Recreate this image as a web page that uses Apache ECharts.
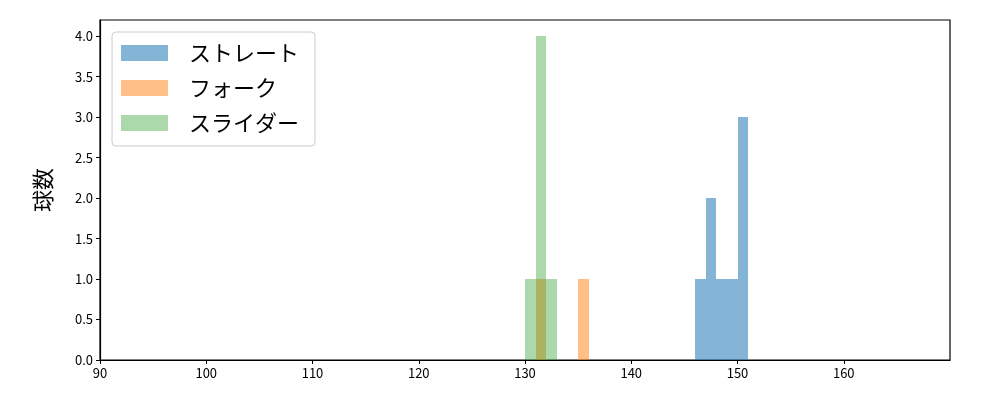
<!DOCTYPE html>
<html>
<head>
<meta charset="utf-8">
<script src="https://cdn.jsdelivr.net/npm/echarts@6/dist/echarts.min.js"></script>
<style>html,body{margin:0;padding:0;background:#fff}#c{width:1000px;height:400px}</style>
</head>
<body>
<div id="c"></div>
<script>
const seriesNames = ['ストレート', 'フォーク', 'スライダー'];
const binWidth = 1;
const straightBins = [146, 147, 148, 149, 150];
const straightCounts = [1, 2, 1, 1, 3];
const forkBins = [131, 135];
const forkCounts = [1, 1];
const sliderBins = [130, 131, 132];
const sliderCounts = [1, 4, 1];
const xTicks = [90, 100, 110, 120, 130, 140, 150, 160];
const yTicks = [0, 0.5, 1.0, 1.5, 2.0, 2.5, 3.0, 3.5, 4.0];

const colors = ['rgba(31,119,180,0.55)', 'rgba(255,127,14,0.5)', 'rgba(44,160,44,0.4)'];
const FONT = '"Noto Sans CJK JP", "DejaVu Sans", sans-serif';

function toData(bins, counts) {
  return bins.map((b, i) => [b, b + binWidth, counts[i]]);
}
function makeSeries(name, data, color) {
  return {
    type: 'custom',
    name: name,
    itemStyle: { color: color },
    encode: { x: [0, 1], y: 2 },
    data: data,
    renderItem: function (params, api) {
      const p0 = api.coord([api.value(0), 0]);
      const p1 = api.coord([api.value(1), api.value(2)]);
      const x0 = Math.round(p0[0]), x1 = Math.round(p1[0]);
      const yb = Math.round(p0[1]), yt = Math.round(p1[1]);
      return {
        type: 'rect',
        shape: { x: x0, y: yt, width: x1 - x0, height: yb - yt },
        style: { fill: color }
      };
    }
  };
}

const chart = echarts.init(document.getElementById('c'), null, { renderer: 'canvas' });
chart.setOption({
  animation: false,
  backgroundColor: '#fff',
  grid: { left: 100, right: 50, top: 20, bottom: 40, show: true, borderColor: '#000', borderWidth: 1.2, backgroundColor: 'transparent' },
  legend: {
    left: 112, top: 32, orient: 'vertical',
    data: seriesNames,
    icon: 'rect', itemWidth: 47, itemHeight: 16, itemGap: 13,
    padding: [10, 16, 12, 9],
    borderColor: '#cccccc', borderWidth: 1, borderRadius: 4,
    backgroundColor: 'rgba(255,255,255,0.8)',
    textStyle: { fontFamily: FONT, fontSize: 22, color: '#000', padding: [0, 0, 0, 16] }
  },
  xAxis: {
    type: 'value', min: 90, max: 170,
    axisLine: { show: true, lineStyle: { color: '#000', width: 1.2 } },
    axisTick: { show: true, length: 4, lineStyle: { color: '#000' }, customValues: xTicks },
    axisLabel: { color: '#000', fontFamily: FONT, fontSize: 13, margin: 7, customValues: xTicks },
    splitLine: { show: false }
  },
  yAxis: {
    type: 'value', min: 0, max: 4.2,
    name: '球数', nameLocation: 'middle', nameGap: 46, nameRotate: 90,
    nameTextStyle: { fontFamily: FONT, fontSize: 22, color: '#000' },
    axisLine: { show: true, lineStyle: { color: '#000', width: 1.2 } },
    axisTick: { show: true, length: 4, lineStyle: { color: '#000' }, customValues: yTicks },
    axisLabel: { color: '#000', fontFamily: FONT, fontSize: 13, margin: 7, customValues: yTicks, formatter: v => v.toFixed(1) },
    splitLine: { show: false }
  },
  series: [
    makeSeries(seriesNames[0], toData(straightBins, straightCounts), colors[0]),
    makeSeries(seriesNames[1], toData(forkBins, forkCounts), colors[1]),
    makeSeries(seriesNames[2], toData(sliderBins, sliderCounts), colors[2])
  ]
});
</script>
</body>
</html>
